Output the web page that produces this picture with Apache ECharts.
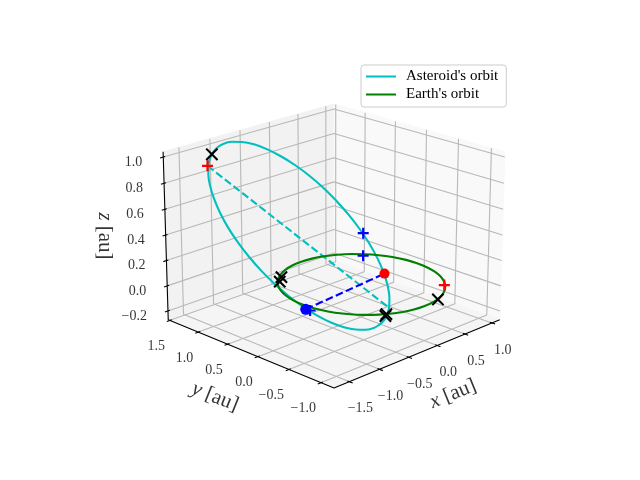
<!DOCTYPE html>
<html lang="en">

<head>
  <meta charset="UTF-8" />
  <title>Asteroid and Earth orbits</title>
</head>

<body style="margin:0">
  <div id="main" style="width: 640px; height: 480px;"></div>
  <script src="https://cdn.jsdelivr.net/npm/echarts@6/dist/echarts.min.js"></script>
  <script type="text/javascript">
    // axis limits and ticks, au
    const xLim = [-1.75, 1.15]
    const yLim = [-1.2, 1.53]
    const zLim = [-0.27, 1.04]
    const xTicks = [-1.5, -1.0, -0.5, 0.0, 0.5, 1.0]
    const yTicks = [-1.0, -0.5, 0.0, 0.5, 1.0, 1.5]
    const zTicks = [-0.2, 0.0, 0.2, 0.4, 0.6, 0.8, 1.0]

    // orbits, au
    const asteroidX = [-0.771, -0.722, -0.676, -0.633, -0.595, -0.562, -0.536, -0.517, -0.504, -0.500, -0.504, -0.515, -0.535, -0.561, -0.594, -0.634, -0.678, -0.727, -0.778, -0.830, -0.883, -0.934, -0.983, -1.028, -1.067, -1.100, -1.127, -1.145, -1.156, -1.158, -1.152, -1.138, -1.117, -1.088, -1.053, -1.013, -0.969, -0.921, -0.871, -0.821, -0.771]
    const asteroidY = [-0.311, -0.460, -0.592, -0.704, -0.794, -0.859, -0.898, -0.910, -0.894, -0.851, -0.781, -0.685, -0.567, -0.427, -0.271, -0.100, 0.080, 0.265, 0.450, 0.630, 0.801, 0.958, 1.097, 1.215, 1.307, 1.372, 1.408, 1.415, 1.392, 1.340, 1.261, 1.157, 1.031, 0.887, 0.727, 0.557, 0.380, 0.201, 0.023, -0.149, -0.311]
    const asteroidZ = [0.811, 0.721, 0.626, 0.527, 0.426, 0.326, 0.229, 0.137, 0.053, -0.022, -0.085, -0.136, -0.172, -0.192, -0.197, -0.185, -0.156, -0.112, -0.053, 0.019, 0.102, 0.195, 0.295, 0.399, 0.505, 0.610, 0.710, 0.804, 0.889, 0.963, 1.023, 1.070, 1.102, 1.117, 1.117, 1.100, 1.068, 1.022, 0.963, 0.892, 0.811]
    const earthX = [1, 0.985, 0.94, 0.866, 0.766, 0.643, 0.5, 0.342, 0.174, 0, -0.174, -0.342, -0.5, -0.643, -0.766, -0.866, -0.94, -0.985, -1, -0.985, -0.94, -0.866, -0.766, -0.643, -0.5, -0.342, -0.174, 0, 0.174, 0.342, 0.5, 0.643, 0.766, 0.866, 0.94, 0.985, 1]
    const earthY = [0, 0.174, 0.342, 0.5, 0.643, 0.766, 0.866, 0.94, 0.985, 1, 0.985, 0.94, 0.866, 0.766, 0.643, 0.5, 0.342, 0.174, 0, -0.174, -0.342, -0.5, -0.643, -0.766, -0.866, -0.94, -0.985, -1, -0.985, -0.94, -0.866, -0.766, -0.643, -0.5, -0.342, -0.174, 0]
    const earthZ = earthX.map(() => 0)

    // dashed lines
    const asteroidAxisX = [-1.16, -0.51]
    const asteroidAxisY = [1.41, -0.88]
    const asteroidAxisZ = [0.87, 0.06]
    const linkX = [-1.08, -0.56]
    const linkY = [-0.12, -0.87]
    const linkZ = [0, 0.32]

    // markers
    const bluePlusX = [-0.66, 0.71, -1.07]
    const bluePlusY = [-0.63, 0.62, -0.18]
    const bluePlusZ = [0.60, 0, 0]
    const redPlusX = [-1.16, 0.68]
    const redPlusY = [1.41, -0.72]
    const redPlusZ = [0.87, 0]
    const blackCrossX = [-1.16, -0.82, -0.55, 0.27, -0.51, -0.56]
    const blackCrossY = [1.33, 0.56, 0.80, -0.97, -0.86, -0.89]
    const blackCrossZ = [0.97, 0.05, 0, 0, 0, 0]
    const redDot = [-0.56, -0.87, 0.32]
    const blueDot = [-1.08, -0.12, 0]

    // same view as the 3d plot: elev 20, azim -135, dist 10
    const cosE = Math.cos(20 * Math.PI / 180), sinE = Math.sin(20 * Math.PI / 180), q = Math.SQRT1_2
    function project(x, y, z) {
      let u = ((x - xLim[0]) / (xLim[1] - xLim[0]) - 0.5) * 1.19
      let v = ((y - yLim[0]) / (yLim[1] - yLim[0]) - 0.5) * 1.19
      let w = ((z - zLim[0]) / (zLim[1] - zLim[0]) - 0.5) * 0.8929
      let f = 10 / (10 - (-q * cosE * (u + v) + sinE * w))
      return [334 + 200 * q * (u - v) * f, 237 - 200 * (q * sinE * (u + v) + cosE * w) * f]
    }
    const path = (xs, ys, zs) => xs.map((x, i) => project(x, ys[i], zs[i]))

    const serif = '"Liberation Serif", serif'
    const plus = 'path://M4 0H6V4H10V6H6V10H4V6H0V4H4Z'
    const thinPlus = 'path://M4.35 0H5.65V4.35H10V5.65H5.65V10H4.35V5.65H0V4.35H4.35Z'

    function line(pts, color, width, extra) {
      return Object.assign({
        type: 'line', data: pts, symbol: 'none', silent: true, clip: false,
        itemStyle: { color },
        lineStyle: { color, width, cap: 'butt' }
      }, extra)
    }
    function pane(corners, color) {
      return {
        type: 'custom', silent: true, clip: false, data: [[0, 0]],
        renderItem(params, api) {
          return {
            type: 'polygon',
            shape: { points: corners.map(c => api.coord(project(c[0], c[1], c[2]))) },
            style: { fill: color, stroke: color, lineWidth: 1 }
          }
        }
      }
    }
    function markers(pts, symbol, size, color, rotate) {
      return {
        type: 'scatter', data: pts, symbol, symbolSize: size, symbolRotate: rotate || 0,
        itemStyle: { color, opacity: 1 }, silent: true, clip: false
      }
    }
    function label(pos, text, rotate, align, size, rich) {
      return {
        type: 'scatter', data: [pos], symbolSize: 0, silent: true, clip: false,
        label: {
          show: true, position: 'inside', formatter: text, rotate: rotate, align: align || 'center',
          verticalAlign: 'middle', fontFamily: serif, fontSize: size, color: '#000', rich
        }
      }
    }

    const [x0, x1] = xLim, [y0, y1] = yLim, [z0, z1] = zLim
    let series = [
      pane([[x0, y1, z0], [x1, y1, z0], [x1, y1, z1], [x0, y1, z1]], '#f2f2f2'),
      pane([[x1, y0, z0], [x1, y1, z0], [x1, y1, z1], [x1, y0, z1]], '#f9f9f9'),
      pane([[x0, y0, z0], [x1, y0, z0], [x1, y1, z0], [x0, y1, z0]], '#f5f5f5')
    ]

    // grid
    const gridColor = '#b8b8b8'
    xTicks.forEach(t => series.push(line([project(t, y0, z0), project(t, y1, z0), project(t, y1, z1)], gridColor, 1.1)))
    yTicks.forEach(t => series.push(line([project(x0, t, z0), project(x1, t, z0), project(x1, t, z1)], gridColor, 1.1)))
    zTicks.forEach(t => series.push(line([project(x0, y1, t), project(x1, y1, t), project(x1, y0, t)], gridColor, 1.1)))

    // axis lines and ticks
    series.push(line([project(x1, y0, z0), project(x0, y0, z0), project(x0, y1, z0), project(x0, y1, z1)], '#000', 1.1))
    xTicks.forEach(t => series.push(line([project(t, y0 - 0.05, z0), project(t, y0 + 0.03, z0)], '#000', 1.1)))
    yTicks.forEach(t => series.push(line([project(x0 - 0.05, t, z0), project(x0 + 0.03, t, z0)], '#000', 1.1)))
    zTicks.forEach(t => series.push(line([project(x0 - 0.05, y1, t), project(x0 + 0.03, y1, t)], '#000', 1.1)))

    // orbits
    series.push(line(path(asteroidX, asteroidY, asteroidZ), '#00bfbf', 2.1, { name: "Asteroid's orbit", smooth: 0.3, z: 3 }))
    series.push(line(path(asteroidAxisX, asteroidAxisY, asteroidAxisZ), '#00bfbf', 2.1, { z: 3 }))
    series[series.length - 1].lineStyle.type = [7.7, 3.3]
    series.push(line(path(earthX, earthY, earthZ), '#008000', 2.1, { name: "Earth's orbit", smooth: 0.3, z: 3 }))
    series.push(line(path(linkX, linkY, linkZ), '#0000ff', 2.1, { z: 3 }))
    series[series.length - 1].lineStyle.type = [7.7, 3.3]

    const markerSeries = [
      markers([project(redDot[0], redDot[1], redDot[2])], 'circle', 10, '#ff0000'),
      markers([project(blueDot[0], blueDot[1], blueDot[2])], 'circle', 11, '#0000ff'),
      markers(path(bluePlusX, bluePlusY, bluePlusZ), plus, 11, '#0000ff'),
      markers(path(redPlusX, redPlusY, redPlusZ), plus, 11, '#ff0000'),
      markers(path(blackCrossX, blackCrossY, blackCrossZ), thinPlus, 16, '#000', 45)
    ]
    markerSeries.forEach(m => { m.z = 4 })
    series = series.concat(markerSeries)

    // tick labels
    const num = t => t.toFixed(1).replace('-', '\u2212')
    xTicks.forEach(t => { let p = project(t, y0, z0); series.push(label([p[0] + 11, p[1] + 27], num(t), 0, 'center', 14)) })
    yTicks.forEach(t => { let p = project(x0, t, z0); series.push(label([p[0] - 5, p[1] + 26], num(t), 0, 'right', 14)) })
    zTicks.forEach(t => { let p = project(x0, y1, t); series.push(label([p[0] - 21, p[1] + 5], num(t), 0, 'right', 14)) })

    // axis titles
    const rich = {
      i: { fontFamily: serif, fontStyle: 'italic', fontSize: 21 },
      r: { fontFamily: serif, fontSize: 21 }
    }
    series.push(label([453, 394], '{i|x} {r|[au]}', 22, 'center', 21, rich))
    series.push(label([215, 397], '{i|y} {r|[au]}', -22, 'center', 21, rich))
    series.push(label([105, 236], '{i|z} {r|[au]}', -90, 'center', 21, rich))

    const myChart = echarts.init(document.getElementById('main'))
    myChart.setOption({
      animation: false,
      backgroundColor: '#fff',
      grid: { left: 0, right: 0, top: 0, bottom: 0 },
      xAxis: { type: 'value', min: 0, max: 640, show: false },
      yAxis: { type: 'value', min: 0, max: 480, inverse: true, show: false },
      legend: {
        data: ["Asteroid's orbit", "Earth's orbit"],
        orient: 'vertical', left: 361, top: 65, padding: [4, 8, 5, 5], itemGap: 3,
        itemWidth: 30, itemHeight: 14, icon: 'path://M0 6H30V8H0Z',
        backgroundColor: '#fff', borderColor: '#cccccc', borderWidth: 1, borderRadius: 3,
        textStyle: { fontFamily: serif, fontSize: 15, color: '#000', padding: [0, 0, 0, 5] }
      },
      series
    })
  </script>
</body>

</html>
